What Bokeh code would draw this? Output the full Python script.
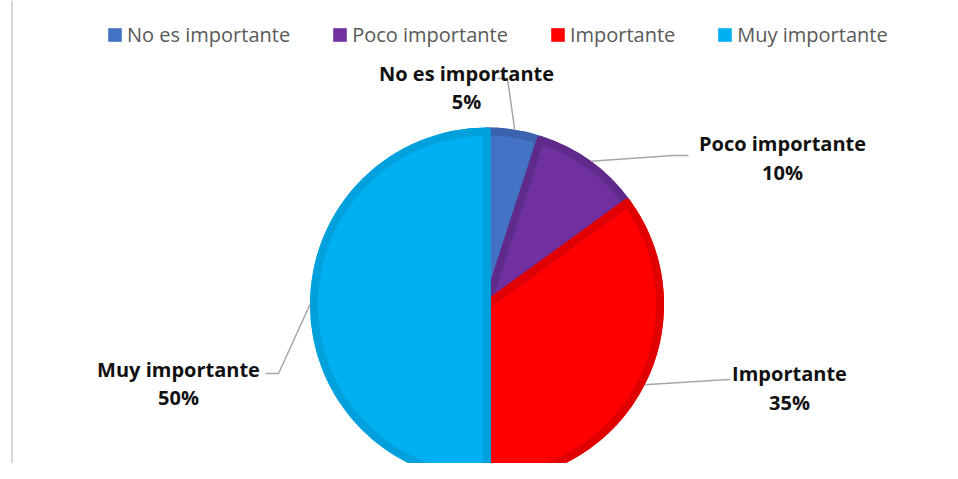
import numpy as np
from bokeh.plotting import figure
from bokeh.models import ColumnDataSource, Range1d, Span, Legend, LegendItem
from bokeh.core.properties import value
from bokeh.embed import file_html
from bokeh.resources import INLINE

# ---- data ----
categorias = ["No es importante", "Poco importante", "Importante", "Muy importante"]
porcentajes = [5, 10, 35, 50]

# ---- styles ----
colores = ["#4472C4", "#7030A0", "#FF0000", "#00B0F0"]
bordes = ["#3B62AE", "#5F2A89", "#E00000", "#00A0DC"]

W, H = 942, 463


def py(y):
    # page pixel y -> data y
    return 479 - y


# ---- layout (page pixel coordinates) ----
cx, cy, R = 486.5, py(304), 177
lab_x = [466, 782, 789, 178]
lab_y1 = [73, 143, 373, 369]
lab_y2 = [101, 172, 402, 397]
lead_elbow = [(507, 78), (672, 155), (728, 379), (278, 373)]
lead_end = [(497, 78), (688, 155), (730, 379), (265, 373)]

frac = np.array(porcentajes, dtype=float) / sum(porcentajes)
cum = np.concatenate([[0.0], np.cumsum(frac)])
start = np.pi / 2 - 2 * np.pi * cum[:-1]
end = np.pi / 2 - 2 * np.pi * cum[1:]
mid = (start + end) / 2

src = ColumnDataSource(dict(
    cat=categorias, start=start, end=end, color=colores, borde=bordes,
    pct=[f"{v}%" for v in porcentajes],
    lx=lab_x, ly1=[py(v) for v in lab_y1], ly2=[py(v) for v in lab_y2],
))

p = figure(width=W, height=H, x_range=Range1d(0, 942), y_range=Range1d(16, 479),
           output_backend="svg", toolbar_location=None, x_axis_type=None,
           y_axis_type=None, min_border=0, outline_line_color=None)
p.background_fill_color = "white"

p.add_layout(Span(location=11.5, dimension="height", line_color="#D9D9D9", line_width=2))

fill_r = p.wedge(x=cx, y=cy, radius=R, start_angle="start", end_angle="end",
                 direction="clock", fill_color="color", line_color=None, source=src)
p.wedge(x=cx, y=cy, radius=R - 4, start_angle="start", end_angle="end",
        direction="clock", fill_color=None, line_color="borde", line_width=8,
        line_join="round", source=src)

# leader lines from slice edge to labels
xs, ys = [], []
for i, m in enumerate(mid):
    ex = cx + R * np.cos(m)
    ey = cy + R * np.sin(m)
    xs.append([ex, lead_elbow[i][0], lead_end[i][0]])
    ys.append([ey, py(lead_elbow[i][1]), py(lead_end[i][1])])
p.multi_line(xs=xs, ys=ys, line_color="#A6A6A6", line_width=1.5)

p.text(x="lx", y="ly1", text="cat", source=src, text_font=value("Open Sans"),
       text_font_style="bold", text_font_size=value("20px"), text_color="#111111",
       text_align="center", text_baseline="middle")
p.text(x="lx", y="ly2", text="pct", source=src, text_font=value("Open Sans"),
       text_font_style="bold", text_font_size=value("20px"), text_color="#111111",
       text_align="center", text_baseline="middle")

legend = Legend(items=[LegendItem(label=categorias[i], renderers=[fill_r], index=i) for i in range(4)],
                orientation="horizontal", location=(106, 415), border_line_color=None,
                background_fill_alpha=0, padding=0, margin=0, spacing=41,
                label_standoff=4, glyph_width=17, glyph_height=17,
                label_text_font="Open Sans", label_text_font_size="20px",
                label_text_color="#595959")
p.add_layout(legend)

open("out.html", "w").write(file_html(p, INLINE))
